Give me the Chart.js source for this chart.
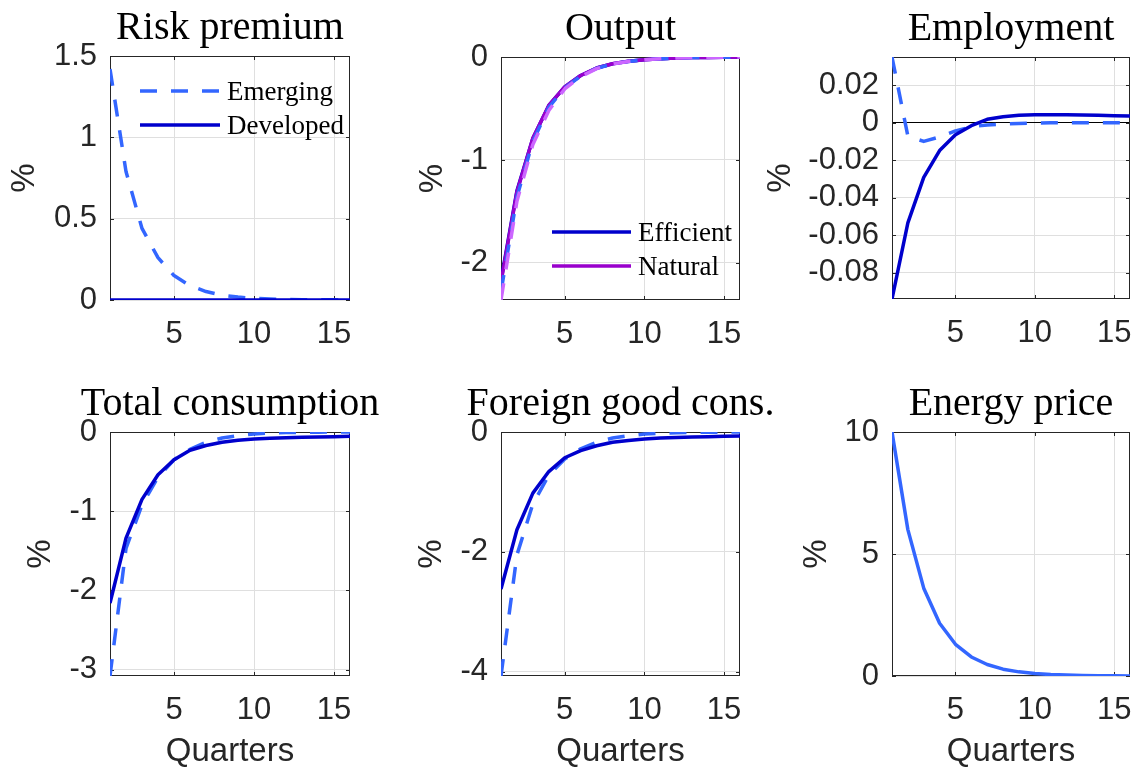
<!DOCTYPE html>
<html>
<head>
<meta charset="utf-8">
<script src="https://cdn.jsdelivr.net/npm/chart.js@4.4.1/dist/chart.umd.min.js"></script>
<style>
  html, body { margin: 0; padding: 0; background: #fff; overflow: hidden; }
  #fig { position: relative; width: 1135px; height: 772px; overflow: hidden; }
  #fig canvas { position: absolute; }
</style>
</head>
<body>
<div id="fig"></div>
<script>
// x axis: quarters after the shock
const quarters = [1, 2, 3, 4, 5, 6, 7, 8, 9, 10, 11, 12, 13, 14, 15, 16];
const xTicks = [5, 10, 15];

// Risk premium
const riskEmerging = [1.42, 0.79, 0.44, 0.26, 0.15, 0.088, 0.052, 0.03, 0.018, 0.01, 0.006, 0.004, 0.002, 0.001, 0.001, 0];
const riskDeveloped = [0, 0, 0, 0, 0, 0, 0, 0, 0, 0, 0, 0, 0, 0, 0, 0];
const riskTicks = [0, 0.5, 1, 1.5];
const riskRange = [0, 1.5];

// Output
const outputEfficient = [-2.17, -1.3, -0.79, -0.47, -0.29, -0.18, -0.107, -0.065, -0.042, -0.026, -0.016, -0.01, -0.006, -0.004, -0.002, -0.001];
const outputNatural = [-2.19, -1.31, -0.79, -0.47, -0.29, -0.18, -0.107, -0.065, -0.042, -0.026, -0.016, -0.01, -0.006, -0.004, -0.002, -0.001];
const outputEfficientEm = [-2.28, -1.36, -0.82, -0.49, -0.3, -0.185, -0.11, -0.067, -0.043, -0.027, -0.017, -0.01, -0.006, -0.004, -0.002, -0.001];
const outputNaturalEm = [-2.36, -1.4, -0.85, -0.52, -0.31, -0.19, -0.113, -0.068, -0.043, -0.027, -0.017, -0.01, -0.006, -0.004, -0.002, -0.001];
const outputTicks = [-2, -1, 0];
const outputRange = [-2.36, 0];

// Employment
const emplDeveloped = [-0.094, -0.0534, -0.0292, -0.0149, -0.0065, -0.0016, 0.0018, 0.0032, 0.0039, 0.0042, 0.0042, 0.0042, 0.0041, 0.0039, 0.0037, 0.0035];
const emplEmerging = [0.035, -0.0072, -0.01, -0.0076, -0.0044, -0.0022, -0.0012, -0.0007, -0.0004, -0.0002, -0.0001, -0.0001, 0, 0, 0, 0];
const emplTicks = [-0.08, -0.06, -0.04, -0.02, 0, 0.02];
const emplRange = [-0.094, 0.035];

// Total consumption
const consDeveloped = [-2.16, -1.34, -0.85, -0.54, -0.35, -0.23, -0.17, -0.13, -0.105, -0.088, -0.08, -0.072, -0.067, -0.063, -0.06, -0.055];
const consEmerging = [-3.08, -1.47, -0.92, -0.57, -0.35, -0.22, -0.13, -0.076, -0.046, -0.025, -0.013, -0.007, -0.004, -0.002, -0.001, 0];
const consTicks = [-3, -2, -1, 0];
const consRange = [-3.08, 0];

// Foreign good consumption
const foreignDeveloped = [-2.62, -1.63, -1.02, -0.66, -0.43, -0.31, -0.23, -0.17, -0.14, -0.117, -0.1, -0.09, -0.084, -0.078, -0.072, -0.067];
const foreignEmerging = [-4.07, -2.05, -1.2, -0.72, -0.45, -0.28, -0.17, -0.1, -0.06, -0.035, -0.02, -0.012, -0.007, -0.004, -0.002, -0.001];
const foreignTicks = [-4, -2, 0];
const foreignRange = [-4.07, 0];

// Energy price
const energyPrice = [10, 6.0, 3.6, 2.16, 1.3, 0.78, 0.47, 0.28, 0.17, 0.1, 0.06, 0.036, 0.022, 0.013, 0.008, 0.005];
const energyTicks = [0, 5, 10];
const energyRange = [0, 10];

const LIGHT = '#3366ff', DARK = '#0000cc', PURPLE = '#9900cc', PINK = '#cc66ff';
const INK = '#262626', GRID = '#dfdfdf';
const sansFont = '"Liberation Sans", Arial, Helvetica, sans-serif';
const serifFont = '"Liberation Serif", "Times New Roman", serif';

const panels = [
  { title: 'Risk premium', left: 110, top: 56, w: 240, h: 244, yw: 105, xh: 50,
    ticks: riskTicks, range: riskRange,
    series: [
      { label: 'Developed', values: riskDeveloped, color: DARK },
      { label: 'Emerging', values: riskEmerging, color: LIGHT, dashed: true },
    ],
    legend: { items: ['Emerging', 'Developed'], x: 30, y: 35, gap: 34, len: 80 } },
  { title: 'Output', left: 501, top: 57, w: 239, h: 243, yw: 88, xh: 50,
    ticks: outputTicks, range: outputRange,
    series: [
      { label: 'Natural em', values: outputNaturalEm, color: PINK, dashed: true },
      { label: 'Efficient em', values: outputEfficientEm, color: LIGHT, dashed: true },
      { label: 'Natural', values: outputNatural, color: PURPLE },
      { label: 'Efficient', values: outputEfficient, color: DARK },
    ],
    legend: { items: ['Efficient', 'Natural'], x: 51, y: 175, gap: 34, len: 79 } },
  { title: 'Employment', left: 892, top: 57, w: 238, h: 242, yw: 131, xh: 50,
    ticks: emplTicks, range: emplRange, zeroLine: true,
    series: [
      { label: 'Developed', values: emplDeveloped, color: DARK },
      { label: 'Emerging', values: emplEmerging, color: LIGHT, dashed: true },
    ] },
  { title: 'Total consumption', left: 110, top: 432, w: 240, h: 244, yw: 89, xh: 96, xTitle: true,
    ticks: consTicks, range: consRange,
    series: [
      { label: 'Developed', values: consDeveloped, color: DARK },
      { label: 'Emerging', values: consEmerging, color: LIGHT, dashed: true },
    ] },
  { title: 'Foreign good cons.', left: 501, top: 432, w: 239, h: 244, yw: 89, xh: 96, xTitle: true,
    ticks: foreignTicks, range: foreignRange,
    series: [
      { label: 'Developed', values: foreignDeveloped, color: DARK },
      { label: 'Emerging', values: foreignEmerging, color: LIGHT, dashed: true },
    ] },
  { title: 'Energy price', left: 892, top: 432, w: 238, h: 244, yw: 95, xh: 96, xTitle: true,
    ticks: energyTicks, range: energyRange,
    series: [
      { label: 'Energy price', values: energyPrice, color: LIGHT },
    ] },
];

// box, inward tick marks, panel title and inset legend (MATLAB look)
const panelDecor = {
  id: 'panelDecor',
  beforeDatasetsDraw(chart) {
    const { ctx, chartArea: a, scales } = chart;
    ctx.save();
    ctx.strokeStyle = INK;
    ctx.lineWidth = 1;
    ctx.strokeRect(Math.round(a.left) + 0.5, Math.round(a.top) + 0.5, Math.round(a.width) - 1, Math.round(a.height) - 1);
    const len = 4;
    ctx.beginPath();
    scales.x.ticks.forEach(t => {
      const px = Math.round(scales.x.getPixelForValue(t.value)) + 0.5;
      ctx.moveTo(px, a.bottom); ctx.lineTo(px, a.bottom - len);
      ctx.moveTo(px, a.top); ctx.lineTo(px, a.top + len);
    });
    scales.y.ticks.forEach(t => {
      const py = Math.round(scales.y.getPixelForValue(t.value)) + 0.5;
      ctx.moveTo(a.left, py); ctx.lineTo(a.left + len, py);
      ctx.moveTo(a.right, py); ctx.lineTo(a.right - len, py);
    });
    ctx.stroke();
    ctx.restore();
  },
  afterDraw(chart, args, opts) {
    const { ctx, chartArea: a } = chart;
    ctx.save();
    ctx.fillStyle = '#000';
    ctx.font = '40px ' + serifFont;
    ctx.textAlign = 'center';
    ctx.textBaseline = 'alphabetic';
    ctx.fillText(opts.title, (a.left + a.right) / 2, a.top - 17);

    const lg = opts.legend;
    if (lg) {
      ctx.font = '27px ' + serifFont;
      ctx.textAlign = 'left';
      lg.items.forEach((name, i) => {
        const ds = chart.data.datasets.find(d => d.label === name);
        const cy = a.top + lg.y + i * lg.gap;
        const x0 = a.left + lg.x;
        ctx.strokeStyle = ds.borderColor;
        ctx.lineWidth = ds.borderWidth;
        ctx.setLineDash(ds.borderDash || []);
        ctx.beginPath();
        ctx.moveTo(x0, cy); ctx.lineTo(x0 + lg.len, cy);
        ctx.stroke();
        ctx.setLineDash([]);
        ctx.fillStyle = '#000';
        ctx.fillText(name, x0 + lg.len + 7, cy + 9);
      });
    }
    ctx.restore();
  }
};

const fig = document.getElementById('fig');

panels.forEach(p => {
  const canvas = document.createElement('canvas');
  const cw = p.yw + p.w + 50;
  const ch = 60 + p.h + p.xh;
  canvas.width = cw;
  canvas.height = ch;
  canvas.style.width = cw + 'px';
  canvas.style.height = ch + 'px';
  canvas.style.left = (p.left - p.yw) + 'px';
  canvas.style.top = (p.top - 60) + 'px';
  fig.appendChild(canvas);

  new Chart(canvas, {
    type: 'line',
    data: {
      datasets: p.series.map(s => ({
        label: s.label,
        data: quarters.map((q, i) => ({ x: q, y: s.values[i] })),
        borderColor: s.color,
        borderWidth: 3.5,
        borderDash: s.dashed ? [17, 14] : [],
        borderJoinStyle: 'round',
        pointRadius: 0,
        tension: 0,
        fill: false,
      })),
    },
    options: {
      responsive: false,
      animation: false,
      devicePixelRatio: 1,
      layout: { padding: { top: 60, right: 50, left: 0, bottom: 0 } },
      plugins: {
        legend: { display: false },
        tooltip: { enabled: false },
        title: { display: false },
        panelDecor: { title: p.title, legend: p.legend },
      },
      scales: {
        x: {
          type: 'linear',
          min: 1,
          max: 16,
          afterBuildTicks: (s) => { s.ticks = xTicks.map(v => ({ value: v })); },
          afterFit: (s) => { s.height = p.xh; s.paddingLeft = 0; s.paddingRight = 0; },
          grid: { color: GRID, drawTicks: false },
          border: { display: false },
          ticks: {
            font: { family: sansFont, size: 31 },
            color: INK,
            padding: 16,
            autoSkip: false,
            maxRotation: 0,
            callback: (v) => String(v),
          },
          title: {
            display: !!p.xTitle,
            text: 'Quarters',
            font: { family: sansFont, size: 33 },
            color: INK,
            padding: { top: 0, bottom: 0 },
          },
        },
        y: {
          type: 'linear',
          min: p.range[0],
          max: p.range[1],
          afterBuildTicks: (s) => { s.ticks = p.ticks.map(v => ({ value: v })); },
          afterFit: (s) => { s.width = p.yw; s.paddingTop = 0; s.paddingBottom = 0; },
          grid: {
            drawTicks: false,
            color: (c) => (p.zeroLine && c.tick && c.tick.value === 0) ? '#000' : GRID,
          },
          border: { display: false },
          ticks: {
            font: { family: sansFont, size: 31 },
            color: INK,
            padding: 13,
            autoSkip: false,
            callback: (v) => String(v),
          },
          title: {
            display: true,
            text: '%',
            font: { family: sansFont, size: 33 },
            color: INK,
            padding: { top: 0, bottom: 0 },
          },
        },
      },
    },
    plugins: [panelDecor],
  });
});
</script>
</body>
</html>
